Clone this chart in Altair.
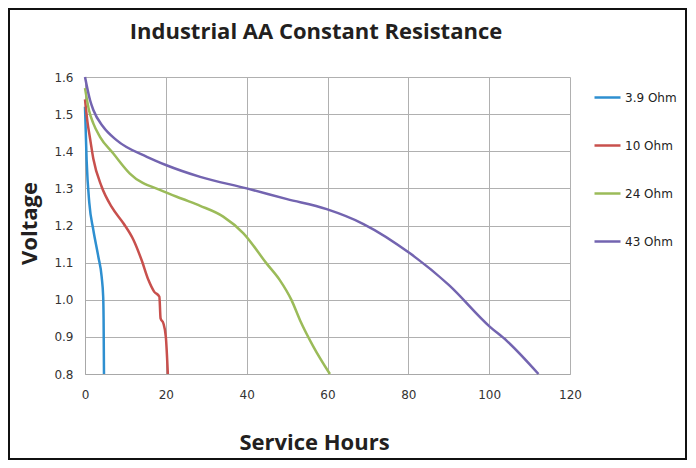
import altair as alt
import pandas as pd

chart_title = "Industrial AA Constant Resistance"
series_names = ["3.9 Ohm", "10 Ohm", "24 Ohm", "43 Ohm"]
series_colors = ["#2E8FD0", "#C8504D", "#9BBB59", "#7364B0"]

hours_39 = [0, 0.4, 1.07, 2.06, 3.3, 4.12, 4.5, 4.6, 4.7]
volts_39 = [1.52, 1.376, 1.26, 1.188, 1.116, 1.062, 1.008, 0.95, 0.80]

hours_10 = [0, 0.6, 1.24, 2.06, 4.1, 6.6, 9.5, 12.0, 14.0, 15.7, 17.1, 18.4, 18.7, 19.4, 20.0, 20.5]
volts_10 = [1.54, 1.48, 1.435, 1.38, 1.305, 1.25, 1.206, 1.161, 1.107, 1.053, 1.022, 1.008, 0.95, 0.936, 0.90, 0.80]

hours_24 = [0, 1.0, 2.05, 3.7, 7.0, 11.1, 19.4, 24.0, 28.5, 34.2, 39.2, 44.9, 48.2, 51.1, 53.2, 56.5, 60.6]
volts_24 = [1.57, 1.51, 1.475, 1.439, 1.394, 1.34, 1.292, 1.272, 1.253, 1.224, 1.179, 1.098, 1.053, 0.999, 0.945, 0.874, 0.80]

hours_43 = [0, 1.24, 2.06, 4.5, 7.8, 15.3, 20.0, 28.5, 40.0, 50.0, 59.8, 68.9, 80.4, 90.0, 100.2, 104.3, 112.2]
volts_43 = [1.60, 1.538, 1.511, 1.466, 1.43, 1.385, 1.363, 1.331, 1.30, 1.271, 1.244, 1.204, 1.125, 1.04, 0.927, 0.89, 0.80]

rows = []
for name, hs, vs in zip(series_names,
                        [hours_39, hours_10, hours_24, hours_43],
                        [volts_39, volts_10, volts_24, volts_43]):
    for h, v in zip(hs, vs):
        rows.append({"series": name, "hours": h, "volts": v})
df = pd.DataFrame(rows)

x_ticks = [0, 20, 40, 60, 80, 100, 120]
y_ticks = [0.8, 0.9, 1.0, 1.1, 1.2, 1.3, 1.4, 1.5, 1.6]

lines = alt.Chart(df).mark_line(strokeWidth=2.5, interpolate="monotone").encode(
    x=alt.X("hours:Q",
            scale=alt.Scale(domain=[0, 120], nice=False),
            axis=alt.Axis(values=x_ticks, title="Service Hours",
                          titleX=229, titleY=75, titleBaseline="alphabetic",
                          labelPadding=15, labelFlush=False)),
    y=alt.Y("volts:Q",
            scale=alt.Scale(domain=[0.8, 1.6], nice=False, zero=False),
            axis=alt.Axis(values=y_ticks, format=".1f", title="Voltage",
                          titleX=-56, titleY=146, titleAngle=270,
                          titleBaseline="middle", titleAlign="center",
                          labelPadding=12, labelFlush=False)),
    color=alt.Color("series:N",
                    scale=alt.Scale(domain=series_names, range=series_colors),
                    sort=series_names,
                    legend=alt.Legend(title=None, orient="none",
                                      legendX=508, legendY=6,
                                      symbolType="stroke", symbolSize=676,
                                      symbolStrokeWidth=2.5, labelOffset=3,
                                      rowPadding=27, padding=0,
                                      labelFont="DejaVu Sans", labelFontSize=12,
                                      labelColor="#222222")),
    order=alt.Order("hours:Q"),
)

title_text = alt.Chart(pd.DataFrame({"t": [chart_title]})).mark_text(
    font="Open Sans", fontSize=22, fontWeight="bold", color="#231F20",
    align="center", baseline="alphabetic"
).encode(
    text="t:N", x=alt.value(231), y=alt.value(-38),
)

frame = alt.Chart(pd.DataFrame({"f": [0]})).mark_rect(
    fillOpacity=0, stroke="#111111", strokeWidth=2
).encode(
    x=alt.value(-76), x2=alt.value(601),
    y=alt.value(-68), y2=alt.value(382),
)

chart = alt.layer(lines, title_text, frame).properties(
    width=485, height=297,
    autosize=alt.AutoSizeParams(type="none"),
    padding={"left": 77, "top": 69, "right": 118, "bottom": 86},
).configure_view(stroke=None).configure_axis(
    labelFont="DejaVu Sans", labelFontSize=12, labelColor="#333333",
    titleFont="Open Sans", titleFontSize=22, titleFontWeight="bold",
    titleColor="#231F20",
    ticks=False, tickSize=0,
    grid=True, gridColor="#B0B0B0", gridWidth=1,
    domainColor="#A8A8A8", domainWidth=1,
)

chart.save("out.html", embed_options={"renderer": "svg", "actions": False})
